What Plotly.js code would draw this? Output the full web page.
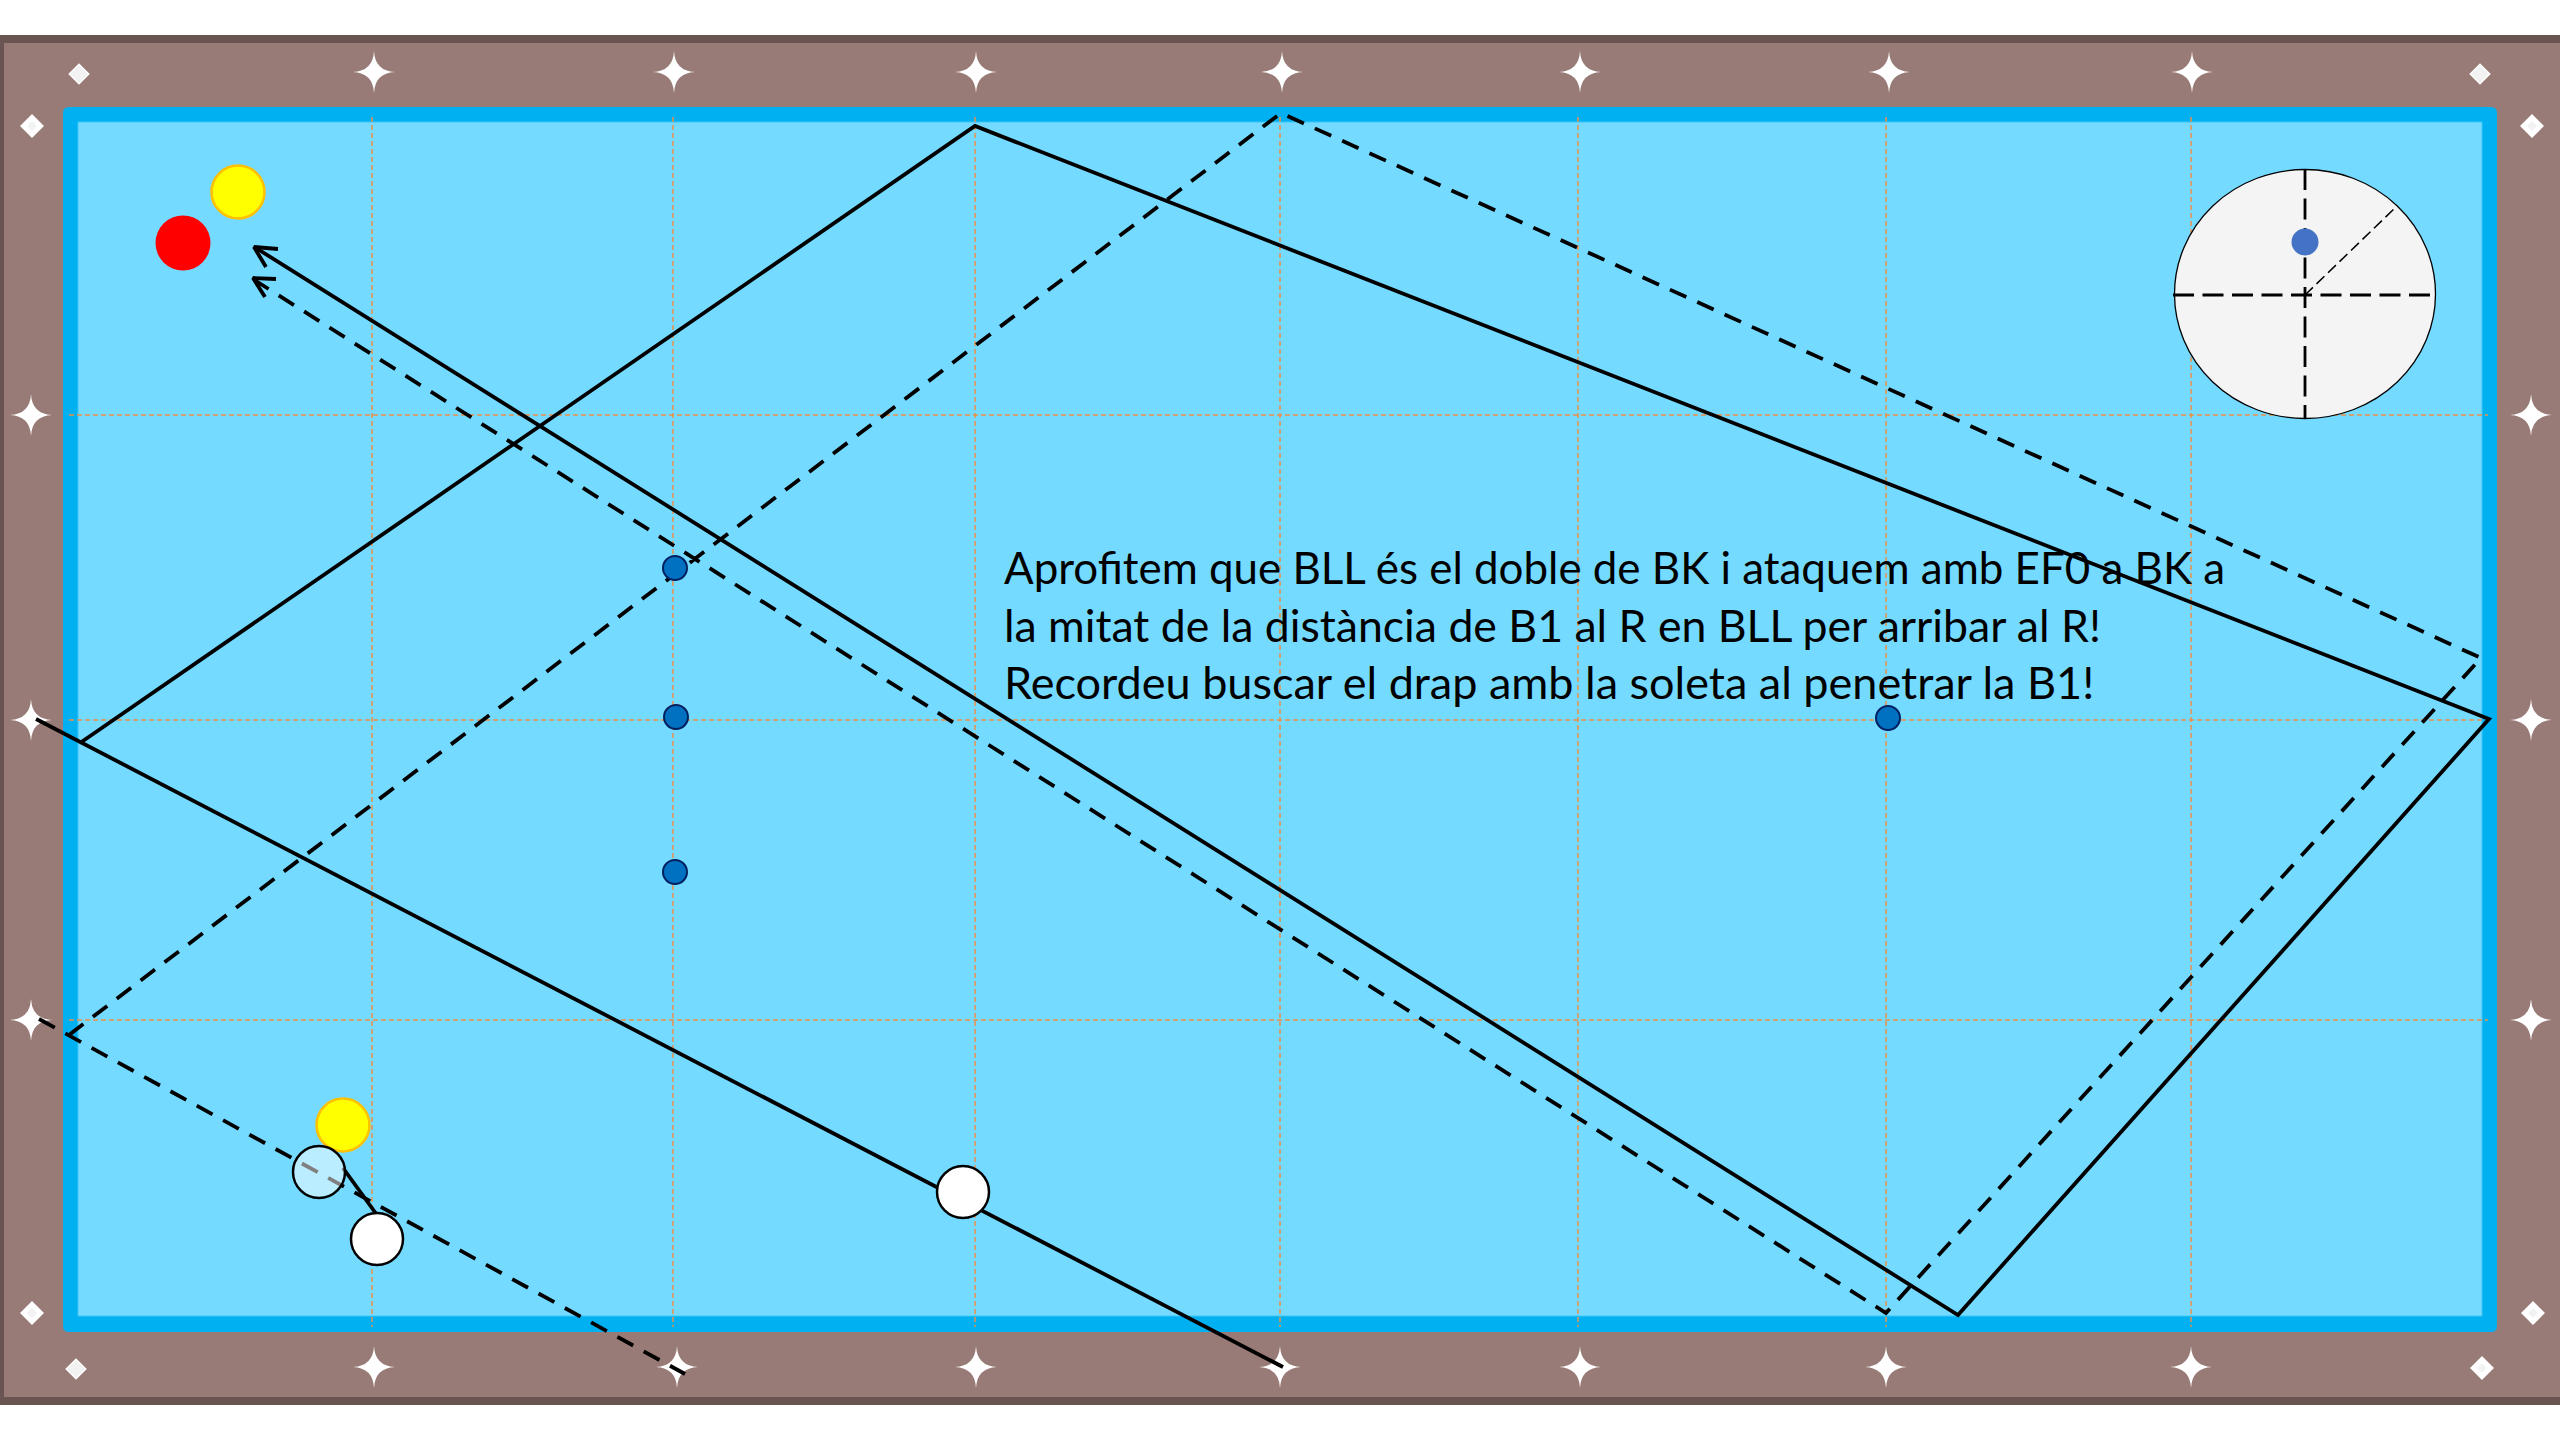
<!DOCTYPE html>
<html><head><meta charset="utf-8">
<script src="https://cdn.plot.ly/plotly-3.0.1.min.js"></script>
<style>html,body{margin:0;padding:0;background:#fff;overflow:hidden}</style>
</head><body><div id="chart" style="width:2560px;height:1440px"></div>
<script>
// Table geometry, read in picture units
const gridX = [372, 673, 975, 1280, 1578, 1886, 2191];
const gridY = [415, 720, 1020];
const starTopX = [374, 674, 976, 1282, 1580, 1889, 2192];
const starBottomX = [374, 677, 976, 1280, 1580, 1886, 2191];
const starSideY = [415, 720, 1020];
const diamondSmallX = [79, 2480, 76];
const diamondSmallY = [74, 74, 1369];
const diamondLargeX = [32, 2532, 32, 2482, 2533];
const diamondLargeY = [126, 126, 1313, 1368, 1313];
// Ball paths
const solidCueX = [36, 1283];
const solidCueY = [719, 1367];
const solidPathX = [80, 975, 2489, 1958, 256];
const solidPathY = [743, 126, 719, 1315, 248];
const dashedCueX = [39, 685];
const dashedCueY = [1019, 1374];
const dashedPathX = [69, 1281, 2481, 1886, 256];
const dashedPathY = [1035, 113, 658, 1313, 281];
const solidHeadX = [278, 254, 266];
const solidHeadY = [249, 247, 267];
const dashedHeadX = [276, 253, 265];
const dashedHeadY = [279, 278, 297];
const contactX = [343, 377];
const contactY = [1168, 1215];
// Balls
const yellowX = [238, 343];
const yellowY = [192, 1125];
const redX = [183];
const redY = [243];
const ghostX = [319];
const ghostY = [1172];
const whiteX = [377, 963];
const whiteY = [1239, 1192];
const dotX = [675, 676, 675, 1888];
const dotY = [568, 717, 872, 718];
// Spin diagram
const spinCrossVX = [2305, 2305];
const spinCrossVY = [169, 418];
const spinCrossHX = [2173, 2430];
const spinCrossHY = [295, 295];
const spinDiagX = [2305, 2397];
const spinDiagY = [295, 206];
const spinDotX = [2305];
const spinDotY = [242];
// Text
const noteLines = [
  "Aprofitem que BLL és el doble de BK i ataquem amb EF0 a BK a",
  "la mitat de la distància de B1 al R en BLL per arribar al R!",
  "Recordeu buscar el drap amb la soleta al penetrar la B1!"
];
const noteX = [1004, 1004, 1004];
const noteY = [573, 631, 688];
const noteSizes = [43.9, 44.6, 45];

const line = (x, y, width, dash) => ({type:'scatter', mode:'lines', x, y, hoverinfo:'skip',
  line:{color:'#000', width, dash: dash || 'solid', shape:'linear'}});
const balls = (x, y, size, color, lineColor, lineWidth) => ({type:'scatter', mode:'markers', x, y, hoverinfo:'skip',
  marker:{symbol:'circle', size, color, line:{color:lineColor, width:lineWidth}}});
const MAIN_DASH = '18px,12px';
const diamonds = (x, y, size, lineWidth) => ({type:'scatter', mode:'markers', x, y, hoverinfo:'skip',
  marker:{symbol:'diamond', size, color:'#F2F2F2', line:{color:'#FFFFFF', width:lineWidth}}});

const traces = [
  line(solidCueX, solidCueY, 3.8),
  line(solidPathX, solidPathY, 3.8),
  line(dashedCueX, dashedCueY, 3.8, MAIN_DASH),
  line(dashedPathX, dashedPathY, 3.8, MAIN_DASH),
  line(solidHeadX, solidHeadY, 3.8),
  line(dashedHeadX, dashedHeadY, 3.8),
  line(contactX, contactY, 3.8),
  line(spinCrossVX, spinCrossVY, 2.8, '21px,8.5px'),
  line(spinCrossHX, spinCrossHY, 2.8, '21px,8.5px'),
  line(spinDiagX, spinDiagY, 1.5, '11px,5px'),
  balls(spinDotX, spinDotY, 27, '#4472C4', '#4472C4', 0),
  balls(yellowX, yellowY, 53, '#FFFF00', '#FFC000', 2.5),
  balls(redX, redY, 55, '#FF0000', '#FF0000', 0),
  balls(ghostX, ghostY, 52, 'rgba(255,255,255,0.5)', '#000', 2.5),
  balls(whiteX, whiteY, 52, '#FFFFFF', '#000', 2.5),
  balls(dotX, dotY, 24, '#0070C0', '#002060', 2),
  diamonds(diamondSmallX, diamondSmallY, 15, 1.5),
  diamonds(diamondLargeX, diamondLargeY, 13, 5),
  {type:'scatter', mode:'text', x: noteX, y: noteY, text: noteLines, hoverinfo:'skip',
   textposition:'middle right', cliponaxis:false,
   textfont:{family:'Lato', size:noteSizes, color:'#000'}}
];

const roundRect = (x0, y0, x1, y1, r) =>
  `M${x0+r},${y0}L${x1-r},${y0}Q${x1},${y0} ${x1},${y0+r}L${x1},${y1-r}Q${x1},${y1} ${x1-r},${y1}L${x0+r},${y1}Q${x0},${y1} ${x0},${y1-r}L${x0},${y0+r}Q${x0},${y0} ${x0+r},${y0}Z`;
const starPath = (cx, cy) => { const r = 21;
  return `M${cx-r},${cy}Q${cx-1},${cy-1} ${cx},${cy-r}Q${cx+1},${cy-1} ${cx+r},${cy}Q${cx+1},${cy+1} ${cx},${cy+r}Q${cx-1},${cy+1} ${cx-r},${cy}Z`; };
const star = (cx, cy) => ({type:'path', path:starPath(cx, cy), fillcolor:'#FFFFFF', line:{width:0}});
const gridStyle = {color:'#E8914A', width:1.5, dash:'5px,3px'};

const shapes = [
  {type:'rect', x0:0, x1:2600, y0:39, y1:1401, fillcolor:'#987A76', line:{color:'#6A5452', width:8}},
  {type:'path', path:roundRect(63,107,2497,1332,6), fillcolor:'#00B0F0', line:{width:0}},
  {type:'rect', x0:78, x1:2482, y0:122, y1:1316, fillcolor:'#75DAFF', line:{color:'#3FC6F8', width:1}},
  ...gridX.map(x => ({type:'line', x0:x, x1:x, y0:117, y1:1327, line:gridStyle})),
  ...gridY.map(y => ({type:'line', x0:69, x1:2488, y0:y, y1:y, line:gridStyle})),
  {type:'circle', x0:2174.5, x1:2435.5, y0:169.5, y1:418.5, fillcolor:'#F4F4F4', line:{color:'#000', width:1.3}},
  ...starTopX.map(x => star(x, 72)),
  ...starBottomX.map(x => star(x, 1367)),
  ...starSideY.map(y => star(31, y)),
  ...starSideY.map(y => star(2531, y))
];
shapes.forEach(s => { s.xref='x'; s.yref='y'; s.layer='below'; });

const hidden = {visible:false, showgrid:false, zeroline:false, fixedrange:true};
Plotly.newPlot('chart', traces, {
  width:2560, height:1440, margin:{l:0,r:0,t:0,b:0,pad:0},
  paper_bgcolor:'#FFFFFF', plot_bgcolor:'#FFFFFF', showlegend:false,
  xaxis:{...hidden, range:[0,2560]},
  yaxis:{...hidden, range:[1440,0]},
  shapes
}, {displayModeBar:false, staticPlot:true});
</script></body></html>
